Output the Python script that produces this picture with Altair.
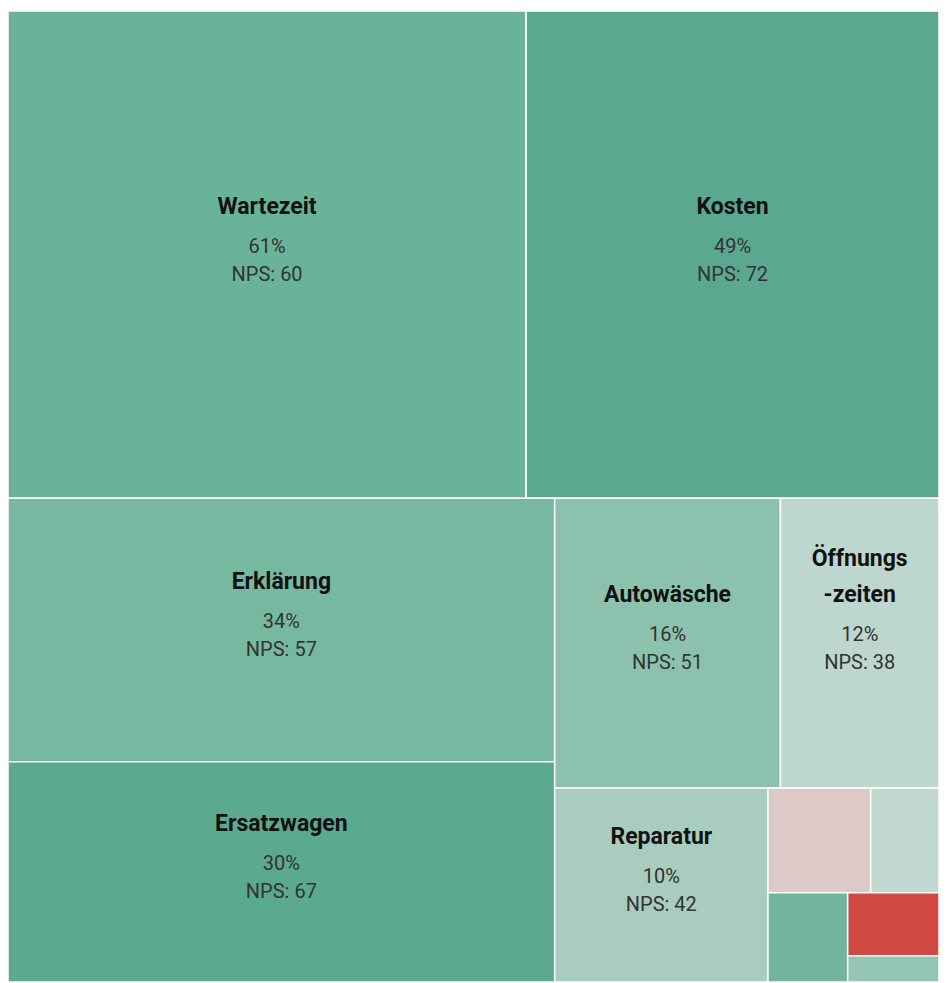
import math
import altair as alt
import pandas as pd

# ---- data ----
categories = ["Wartezeit", "Kosten", "Erklärung", "Ersatzwagen", "Autowäsche",
              "Öffnungszeiten", "Reparatur", "Sonstige A", "Sonstige B",
              "Sonstige C", "Sonstige D", "Sonstige E"]
title_line1 = ["", "", "", "", "", "Öffnungs", "", "", "", "", "", ""]
title_line2 = ["Wartezeit", "Kosten", "Erklärung", "Ersatzwagen", "Autowäsche",
               "-zeiten", "Reparatur", "", "", "", "", ""]
# cell areas (share of mentions, estimated from the tile areas)
shares = [61, 48.6, 34.8, 29.1, 15.8, 11.1, 10.0, 2.6, 1.73, 1.72, 1.39, 0.58]
# printed percentages
pct_labels = ["61%", "49%", "34%", "30%", "16%", "12%", "10%", "", "", "", "", ""]
nps_labels = ["NPS: 60", "NPS: 72", "NPS: 57", "NPS: 67", "NPS: 51",
              "NPS: 38", "NPS: 42", "", "", "", "", ""]
colors = ["#69b39b", "#5aa890", "#77b8a0", "#5ba98f", "#8bc1ad", "#bdd7ce",
          "#a8cdbf", "#dec9c9", "#c1d8cf", "#72b59c", "#d04a43", "#94c4b3"]

W, H = 931, 971  # plot area in pixels (layout space = pixel space)


def squarify(values, x0, y0, x1, y1, ratio=(1 + math.sqrt(5)) / 2):
    """d3/Vega squarified treemap layout (treemapSquarify, golden ratio)."""
    n = len(values)
    rects = [None] * n
    value = float(sum(values))
    i0 = i1 = 0
    while i0 < n:
        dx, dy = x1 - x0, y1 - y0
        sum_v = values[i1]
        i1 += 1
        min_v = max_v = sum_v
        alpha = max(dy / dx, dx / dy) / (value * ratio)
        beta = sum_v * sum_v * alpha
        min_ratio = max(max_v / beta, beta / min_v)
        while i1 < n:
            nv = values[i1]
            s = sum_v + nv
            mn, mx = min(min_v, nv), max(max_v, nv)
            beta = s * s * alpha
            nr = max(mx / beta, beta / mn)
            if nr > min_ratio:
                break
            sum_v, min_v, max_v, min_ratio = s, mn, mx, nr
            i1 += 1
        row = range(i0, i1)
        if dx < dy:  # dice: horizontal strip on top
            ny = y0 + dy * sum_v / value
            cx = x0
            for i in row:
                w = dx * values[i] / sum_v
                rects[i] = (cx, y0, cx + w, ny)
                cx += w
            y0 = ny
        else:  # slice: vertical column on the left
            nx = x0 + dx * sum_v / value
            cy = y0
            for i in row:
                h = dy * values[i] / sum_v
                rects[i] = (x0, cy, nx, cy + h)
                cy += h
            x0 = nx
        value -= sum_v
        i0 = i1
    return rects


rects = squarify(shares, 0, 0, W, H)
df = pd.DataFrame({
    "category": categories,
    "line1": title_line1,
    "line2": title_line2,
    "share": shares,
    "pct": pct_labels,
    "npstxt": nps_labels,
    "x0": [r[0] for r in rects],
    "y0": [r[1] for r in rects],
    "x1": [r[2] for r in rects],
    "y1": [r[3] for r in rects],
})
df["cx"] = (df["x0"] + df["x1"]) / 2
df["cy"] = (df["y0"] + df["y1"]) / 2

xs = alt.Scale(domain=[0, W], nice=False, zero=False)
ys = alt.Scale(domain=[0, H], nice=False, zero=False, reverse=True)

base = alt.Chart(df)

cells = base.mark_rect(stroke="white", strokeWidth=1.5).encode(
    x=alt.X("x0:Q", scale=xs, axis=None),
    x2="x1:Q",
    y=alt.Y("y0:Q", scale=ys, axis=None),
    y2="y1:Q",
    color=alt.Color("category:N", scale=alt.Scale(domain=categories, range=colors), legend=None),
    tooltip=["category:N", "share:Q"],
)

labeled = base.transform_filter("datum.line2 != ''")
pos = dict(
    x=alt.X("cx:Q", scale=xs, axis=None),
    y=alt.Y("cy:Q", scale=ys, axis=None),
)

title_style = dict(font="Roboto", fontWeight="bold", fontSize=23, color="#111111",
                   baseline="alphabetic", align="center")
num_style = dict(font="Roboto", fontSize=20, color="#333333",
                 baseline="alphabetic", align="center")

title2 = labeled.mark_text(dy=-41, **title_style).encode(text="line2:N", **pos)
title1 = labeled.transform_filter("datum.line1 != ''").mark_text(
    dy=-77, **title_style).encode(text="line1:N", **pos)
pct_txt = labeled.mark_text(dy=-2, **num_style).encode(text="pct:N", **pos)
nps_txt = labeled.mark_text(dy=26, **num_style).encode(text="npstxt:N", **pos)

chart = alt.layer(cells, title1, title2, pct_txt, nps_txt).properties(
    width=W,
    height=H,
    autosize=alt.AutoSizeParams(type="none"),
    padding={"left": 0, "top": 3, "right": 0, "bottom": 0},
).configure_view(stroke=None)

chart.save("out.html", embed_options={"renderer": "svg", "actions": False})
